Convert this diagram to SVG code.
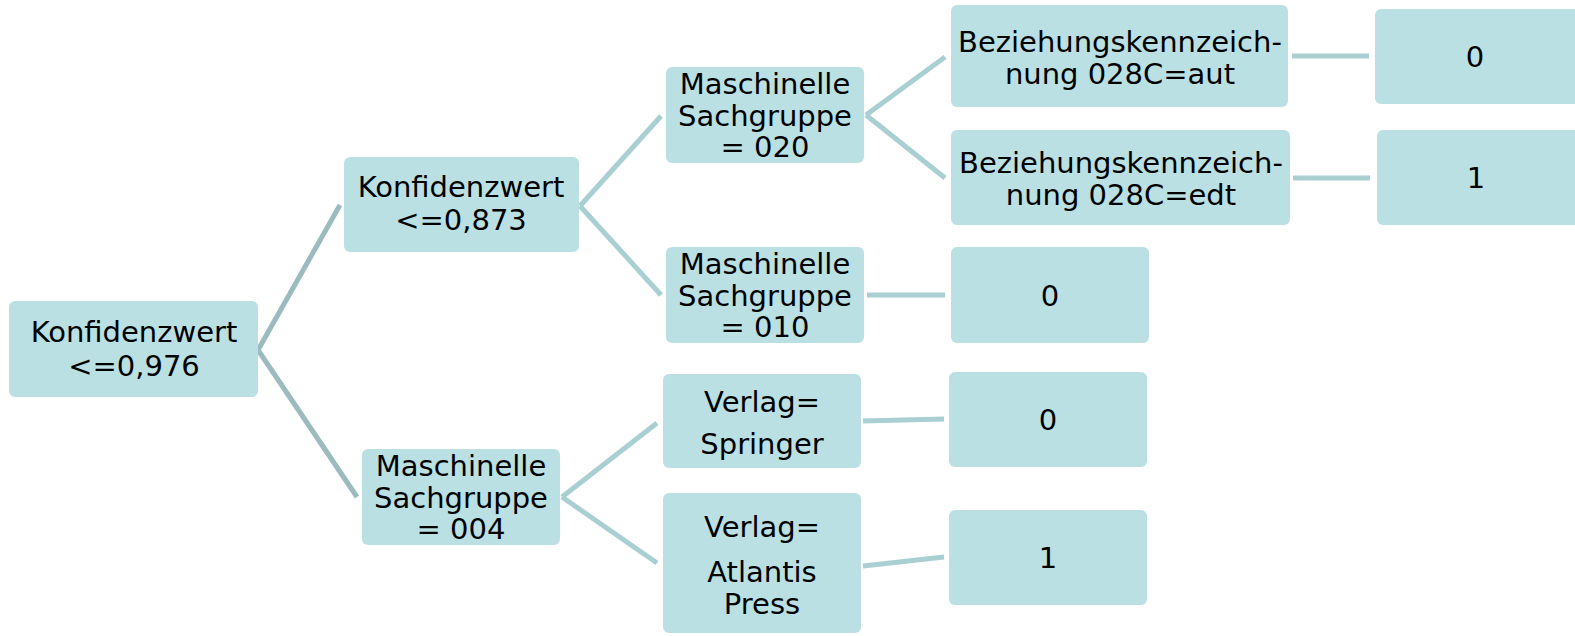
<svg xmlns="http://www.w3.org/2000/svg" width="1575" height="636" viewBox="0 0 1575 636">
<style>
.n{fill:#bae0e3}
.t{font-family:"DejaVu Sans","Verdana",sans-serif;font-size:29px;fill:#000;text-anchor:middle}
.c{stroke:#a9cfd2;stroke-width:5;fill:none}
.d{stroke:#9bbbbe;stroke-width:5;fill:none}
</style>
<rect width="1575" height="636" fill="#fff"/>
<g id="connectors">
<line class="d" x1="258" y1="350" x2="340" y2="205"/>
<line class="d" x1="258" y1="350" x2="357" y2="497"/>
<line class="c" x1="580" y1="206" x2="661" y2="116"/>
<line class="c" x1="580" y1="206" x2="661" y2="295"/>
<line class="c" x1="866" y1="115" x2="945" y2="57"/>
<line class="c" x1="866" y1="115" x2="945" y2="178"/>
<line class="c" x1="1292" y1="56" x2="1369" y2="56"/>
<line class="c" x1="1293" y1="178" x2="1370" y2="178"/>
<line class="c" x1="867" y1="295" x2="945" y2="295"/>
<line class="c" x1="562" y1="497" x2="657" y2="423"/>
<line class="c" x1="562" y1="497" x2="657" y2="563"/>
<line class="c" x1="863" y1="421" x2="944" y2="419"/>
<line class="c" x1="863" y1="566" x2="944" y2="557"/>
</g>
<g id="root"><rect class="n" x="9" y="301" width="249" height="96" rx="6"/>
<text class="t" x="134" y="342">Konfidenzwert</text><text class="t" x="134" y="376">&lt;=0,976</text></g>
<g id="k873"><rect class="n" x="344" y="157" width="235" height="95" rx="6"/>
<text class="t" x="461" y="197">Konfidenzwert</text><text class="t" x="461" y="230">&lt;=0,873</text></g>
<g id="ms020"><rect class="n" x="666" y="67" width="198" height="96" rx="6"/>
<text class="t" x="765" y="94">Maschinelle</text><text class="t" x="765" y="126">Sachgruppe</text><text class="t" x="765" y="157">= 020</text></g>
<g id="ms010"><rect class="n" x="666" y="247" width="198" height="96" rx="6"/>
<text class="t" x="765" y="274">Maschinelle</text><text class="t" x="765" y="306">Sachgruppe</text><text class="t" x="765" y="337">= 010</text></g>
<g id="ms004"><rect class="n" x="362" y="449" width="198" height="96" rx="6"/>
<text class="t" x="461" y="476">Maschinelle</text><text class="t" x="461" y="508">Sachgruppe</text><text class="t" x="461" y="539">= 004</text></g>
<g id="springer"><rect class="n" x="663" y="374" width="198" height="94" rx="6"/>
<text class="t" x="762" y="412">Verlag=</text><text class="t" x="762" y="454">Springer</text></g>
<g id="atlantis"><rect class="n" x="663" y="493" width="198" height="140" rx="6"/>
<text class="t" x="762" y="537">Verlag=</text><text class="t" x="762" y="582">Atlantis</text><text class="t" x="762" y="614">Press</text></g>
<g id="bezaut"><rect class="n" x="951" y="5" width="337" height="102" rx="6"/>
<text class="t" x="1120" y="52">Beziehungskennzeich-</text><text class="t" x="1120" y="84">nung 028C=aut</text></g>
<g id="bezedt"><rect class="n" x="951" y="130" width="339" height="95" rx="6"/>
<text class="t" x="1121" y="173">Beziehungskennzeich-</text><text class="t" x="1121" y="205">nung 028C=edt</text></g>
<g id="leaf0a"><rect class="n" x="1375" y="9" width="206" height="95" rx="6"/>
<text class="t" x="1475" y="67">0</text></g>
<g id="leaf1a"><rect class="n" x="1377" y="130" width="204" height="95" rx="6"/>
<text class="t" x="1476" y="188">1</text></g>
<g id="leaf0b"><rect class="n" x="951" y="247" width="198" height="96" rx="6"/>
<text class="t" x="1050" y="306">0</text></g>
<g id="leaf0c"><rect class="n" x="949" y="372" width="198" height="95" rx="6"/>
<text class="t" x="1048" y="430">0</text></g>
<g id="leaf1b"><rect class="n" x="949" y="510" width="198" height="95" rx="6"/>
<text class="t" x="1048" y="568">1</text></g>
</svg>
